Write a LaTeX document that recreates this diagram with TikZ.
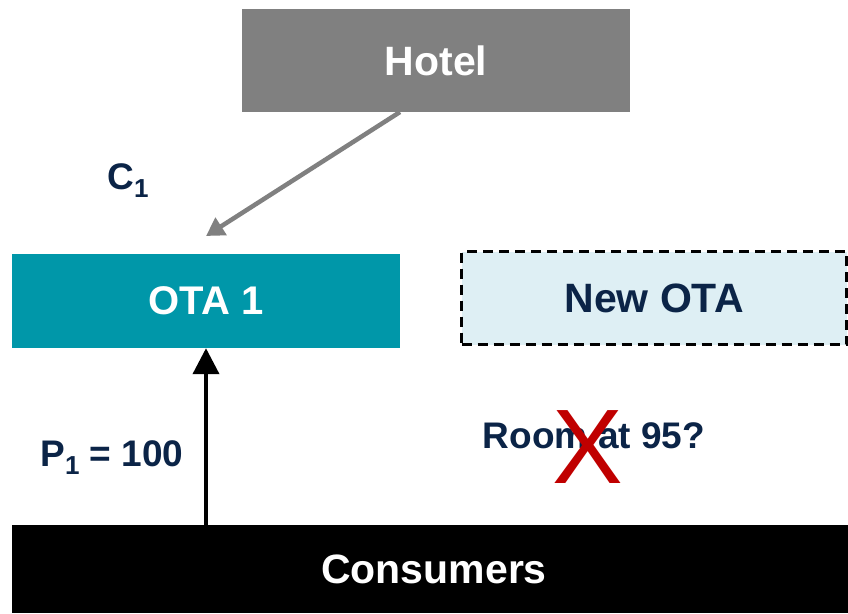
\documentclass[tikz,border=0pt]{standalone}
\usepackage{fontspec}
\setmainfont{Liberation Sans}
\usetikzlibrary{arrows.meta}
\definecolor{navy}{HTML}{0B2447}
\definecolor{teal1}{HTML}{0097A9}
\definecolor{hotelgray}{HTML}{808080}
\definecolor{paleblue}{HTML}{DEEFF4}
\definecolor{crossred}{HTML}{C00000}
\newcommand{\fs}[1]{\fontsize{#1}{#1}\selectfont}
\newcommand{\sub}[1]{\raisebox{-0.22em}{\fs{26}#1}}
\tikzset{
  box/.style={draw=none, inner sep=0pt, minimum width=388pt, minimum height=94pt,
    font=\fs{40}\bfseries, text=white},
  lbl/.style={inner sep=0pt, font=\fs{37}\bfseries, text=navy},
}
\begin{document}
\begin{tikzpicture}[x=1pt,y=-1pt]
  \useasboundingbox (0,0) rectangle (848,613);
  \fill[white] (0,0) rectangle (848,613);

  % boxes
  \node[box, fill=hotelgray, minimum width=388pt, minimum height=103pt, font=\fs{41}\bfseries]
    (hotel) at (436,60.5) {\raisebox{-2pt}{Hotel}};
  \node[box, fill=teal1] (ota1) at (206,301) {OTA 1};
  \node[box, fill=paleblue, text=navy, draw=black, line width=3.5pt,
    dash pattern=on 10pt off 6pt, minimum width=385pt, minimum height=93pt, font=\fs{41}\bfseries]
    (newota) at (654,298) {New OTA};
  \node[box, fill=black, minimum width=836pt, minimum height=88pt, font=\fs{41}\bfseries]
    (consumers) at (430,569) {\raisebox{-4pt}{\hspace{8pt}Consumers}};

  % hotel -> OTA 1 (cost)
  \coordinate (hotelout) at (400,112);
  \coordinate (c1tip) at (206,236);
  \draw[hotelgray, line width=4.5pt, -{Triangle[length=18pt, width=20pt]}] (hotelout) -- (c1tip);
  \node[lbl] (c1) at (128,181) {C\sub{1}};

  % consumers -> OTA 1 (price)
  \draw[black, line width=4pt, -{Triangle[length=26pt, width=26pt]}]
    (ota1.south |- consumers.north) -- (ota1.south);
  \node[lbl] (p1) at (112,458) {P\sub{1} = 100};

  % rejected offer
  \node[lbl] (room) at (594,436) {Room at 95?};
  \node[inner sep=0pt, text=crossred, font=\fs{106}] (cross) at (588,447) {X};
\end{tikzpicture}
\end{document}
